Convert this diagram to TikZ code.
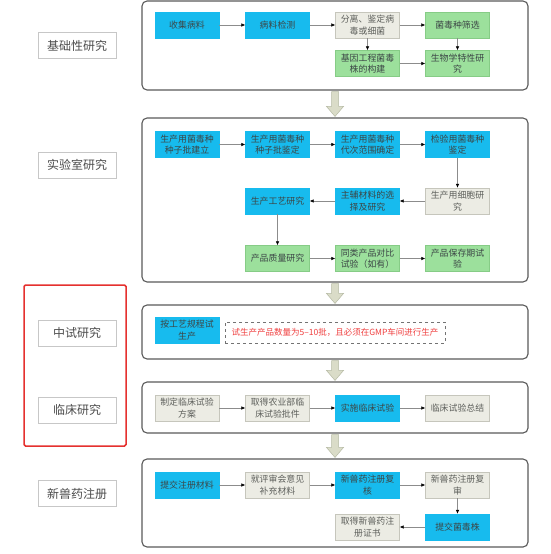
\documentclass[tikz,border=0pt]{standalone}
\usepackage{fontspec}
\newfontfamily\cjk{Noto Sans CJK SC}
\usetikzlibrary{arrows.meta,calc}
\definecolor{cyanbox}{HTML}{17BBEE}
\definecolor{greenbox}{HTML}{9CE09C}
\definecolor{greenedge}{HTML}{86CC86}
\definecolor{greybox}{HTML}{ECECE4}
\definecolor{greyedge}{HTML}{C6C6BC}
\definecolor{txt}{HTML}{3C4646}
\definecolor{txtg}{HTML}{5E605C}
\definecolor{panel}{HTML}{5A5A5A}
\definecolor{barfill}{HTML}{DADCC8}
\definecolor{baredge}{HTML}{B6BAA4}
\definecolor{redline}{HTML}{E5312F}
\definecolor{redtxt}{HTML}{F04040}
\tikzset{
  bx/.style={minimum width=64pt, minimum height=26pt, inner sep=1pt, align=center,
    font=\cjk\fontsize{8.9}{11.5}\selectfont},
  bluebx/.style={bx, fill=cyanbox, draw=cyanbox, text=txt},
  greenbx/.style={bx, fill=greenbox, draw=greenedge, text=txt},
  greybx/.style={bx, fill=greybox, draw=greyedge, text=txtg},
  panelbx/.style={draw=panel, line width=1.1pt, rounded corners=5pt, minimum width=386pt},
  label/.style={draw=black!22, minimum width=78pt, minimum height=26pt, inner sep=1pt,
    font=\cjk\fontsize{12}{14}\selectfont, text=black!70},
  conn/.style={draw=black!45, line width=0.5pt, -{Latex[length=4pt,width=3.6pt,color=black]}},
  barrow/.style={fill=barfill, draw=baredge, line width=0.5pt},
}
\newcommand\blockarrow[2]{%
  \path (#1.south) coordinate (ba1) (#2.north) coordinate (ba2);
  \draw[barrow] let \p1=(ba1), \p2=(ba2) in
    (\x1-3.5pt,\y1-1pt) -- (\x1+3.5pt,\y1-1pt) -- (\x1+3.5pt,\y2+11pt) -- (\x1+8.5pt,\y2+11pt)
    -- (\x1,\y2+1pt) -- (\x1-8.5pt,\y2+11pt) -- (\x1-3.5pt,\y2+11pt) -- cycle;
}
\begin{document}
\begin{tikzpicture}[x=1pt,y=-1pt]
\useasboundingbox[fill=white] (0,0) rectangle (550,554);

% panels
\node[panelbx, minimum height=89pt] (p1) at (335,45.5) {};
\node[panelbx, minimum height=164pt] (p2) at (335,200) {};
\node[panelbx, minimum height=54pt] (p3) at (335,332) {};
\node[panelbx, minimum height=51pt] (p4) at (335,407.5) {};
\node[panelbx, minimum height=88pt] (p5) at (335,503) {};

\blockarrow{p1}{p2}
\blockarrow{p2}{p3}
\blockarrow{p3}{p4}
\blockarrow{p4}{p5}

% left labels
\node[label] (l1) at (77,45.5) {基础性研究};
\node[label] (l2) at (77,165) {实验室研究};
\node[label] (l3) at (77,333) {中试研究};
\node[label] (l4) at (77,410) {临床研究};
\node[label] (l5) at (77,493.5) {新兽药注册};
\node[draw=redline, line width=1.5pt, rounded corners=1.5pt, minimum width=102pt, minimum height=161pt] (red) at (75,365.5) {};

% panel 1
\node[bluebx] (a1) at (187,25) {收集病料};
\node[bluebx] (a2) at (277.5,25) {病料检测};
\node[greybx] (a3) at (367.5,25) {分离、鉴定病\\毒或细菌};
\node[greenbx] (a4) at (457.5,25) {菌毒种筛选};
\node[greenbx] (a5) at (367.5,63.5) {基因工程菌毒\\株的构建};
\node[greenbx] (a6) at (457.5,63.5) {生物学特性研\\究};
\draw[conn] (a1) -- (a2);
\draw[conn] (a2) -- (a3);
\draw[conn] (a3) -- (a4);
\draw[conn] (a3) -- (a5);
\draw[conn] (a4) -- (a6);
\draw[conn] (a5) -- (a6);

% panel 2
\node[bluebx] (b1) at (187,144.5) {生产用菌毒种\\种子批建立};
\node[bluebx] (b2) at (277.5,144.5) {生产用菌毒种\\种子批鉴定};
\node[bluebx] (b3) at (367.5,144.5) {生产用菌毒种\\代次范围确定};
\node[bluebx] (b4) at (457.5,144.5) {检验用菌毒种\\鉴定};
\node[greybx] (b5) at (457.5,201) {生产用细胞研\\究};
\node[bluebx] (b6) at (367.5,201) {主辅材料的选\\择及研究};
\node[bluebx] (b7) at (277.5,201) {生产工艺研究};
\node[greenbx] (b8) at (277.5,258.5) {产品质量研究};
\node[greenbx] (b9) at (367.5,258.5) {同类产品对比\\试验（如有）};
\node[greenbx] (b10) at (457.5,258.5) {产品保存期试\\验};
\draw[conn] (b1) -- (b2);
\draw[conn] (b2) -- (b3);
\draw[conn] (b3) -- (b4);
\draw[conn] (b4) -- (b5);
\draw[conn] (b5) -- (b6);
\draw[conn] (b6) -- (b7);
\draw[conn] (b7) -- (b8);
\draw[conn] (b8) -- (b9);
\draw[conn] (b9) -- (b10);

% panel 3
\node[bluebx] (c1) at (187,330) {按工艺规程试\\生产};
\node[draw=black!55, dashed, line width=0.6pt, minimum width=220pt, minimum height=21pt, inner sep=1pt,
  font=\cjk\fontsize{8.5}{10}\selectfont, text=redtxt] (c2) at (335,332.5) {试生产产品数量为5–10批，且必须在GMP车间进行生产};

% panel 4
\node[greybx] (d1) at (187,408) {制定临床试验\\方案};
\node[greybx] (d2) at (277.5,408) {取得农业部临\\床试验批件};
\node[bluebx] (d3) at (367.5,408) {实施临床试验};
\node[greybx] (d4) at (457.5,408) {临床试验总结};
\draw[conn] (d1) -- (d2);
\draw[conn] (d2) -- (d3);
\draw[conn] (d3) -- (d4);

% panel 5
\node[bluebx] (e1) at (187,485) {提交注册材料};
\node[greybx] (e2) at (277.5,485) {就评审会意见\\补充材料};
\node[bluebx] (e3) at (367.5,485) {新兽药注册复\\核};
\node[greybx] (e4) at (457.5,485) {新兽药注册复\\审};
\node[bluebx] (e5) at (457.5,527) {提交菌毒株};
\node[greybx] (e6) at (367.5,527) {取得新兽药注\\册证书};
\draw[conn] (e1) -- (e2);
\draw[conn] (e2) -- (e3);
\draw[conn] (e3) -- (e4);
\draw[conn] (e4) -- (e5);
\draw[conn] (e5) -- (e6);
\end{tikzpicture}
\end{document}
